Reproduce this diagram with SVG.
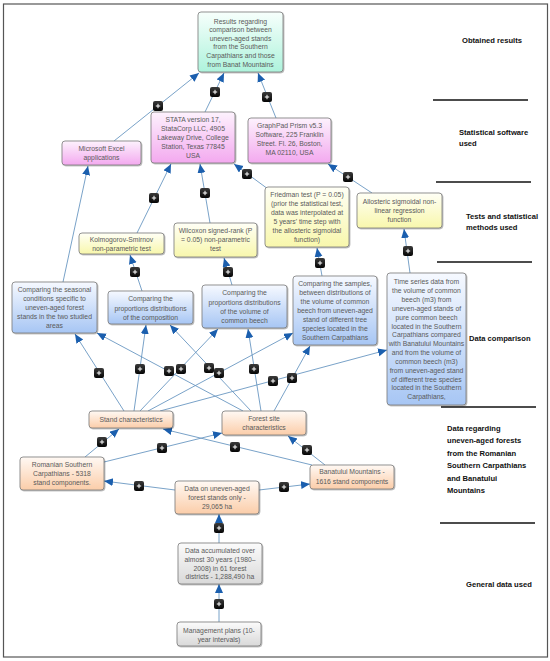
<svg xmlns="http://www.w3.org/2000/svg" xmlns:xlink="http://www.w3.org/1999/xlink" width="550" height="661" viewBox="0 0 550 661">
<defs>
<linearGradient id="gMint" x1="0" y1="0" x2="0" y2="1"><stop offset="0" stop-color="#f7fffc"/><stop offset="1" stop-color="#aef3dc"/></linearGradient>
<linearGradient id="gPink" x1="0" y1="0" x2="0" y2="1"><stop offset="0" stop-color="#fdf2fd"/><stop offset="1" stop-color="#f3a9ef"/></linearGradient>
<linearGradient id="gYel" x1="0" y1="0" x2="0" y2="1"><stop offset="0" stop-color="#fffff6"/><stop offset="1" stop-color="#f8f7ac"/></linearGradient>
<linearGradient id="gBlue" x1="0" y1="0" x2="0" y2="1"><stop offset="0" stop-color="#f6f9ff"/><stop offset="1" stop-color="#a7c6f4"/></linearGradient>
<linearGradient id="gOr" x1="0" y1="0" x2="0" y2="1"><stop offset="0" stop-color="#fff9f4"/><stop offset="1" stop-color="#fbcda9"/></linearGradient>
<linearGradient id="gGray" x1="0" y1="0" x2="0" y2="1"><stop offset="0" stop-color="#fbfbfb"/><stop offset="1" stop-color="#d9d9d9"/></linearGradient>
<linearGradient id="gPlus" x1="0" y1="0" x2="0" y2="1"><stop offset="0" stop-color="#3a3a3a"/><stop offset="1" stop-color="#050505"/></linearGradient>
<filter id="sh" x="-10%" y="-10%" width="130%" height="130%"><feDropShadow dx="0.8" dy="0.8" stdDeviation="0.7" flood-color="#000" flood-opacity="0.35"/></filter>
<marker id="ah" markerUnits="userSpaceOnUse" markerWidth="10" markerHeight="9" refX="9" refY="4" orient="auto"><path d="M0,0 L9,4 L0,8 z" fill="#1b5fae"/></marker>
<g id="plus"><rect x="-5" y="-5" width="10" height="10" rx="2" fill="url(#gPlus)"/><path d="M-2.2,0 H2.2 M0,-2.2 V2.2" stroke="#fff" stroke-width="1"/></g>
</defs>
<style>
.box{stroke:#7a7a7a;stroke-width:0.8;filter:url(#sh)}
.t{font-family:"Liberation Sans",Arial,sans-serif;font-size:6.8px;fill:#5a5a5a;text-anchor:middle}
.lab{font-family:"Liberation Sans",Arial,sans-serif;font-weight:bold;font-size:7.6px;fill:#111}
.c{stroke:#6a97c2;stroke-width:0.9;fill:none;marker-end:url(#ah)}
.sep{stroke:#111;stroke-width:1.3}
</style>
<rect x="3.5" y="4" width="544" height="653" fill="#fff" stroke="#555" stroke-width="1.2"/>

<g id="labels">
<text class="lab" x="462" y="43">Obtained results</text>
<line class="sep" x1="433" y1="100" x2="528" y2="100"/>
<text class="lab" x="459" y="135">Statistical software<tspan x="459" dy="11">used</tspan></text>
<line class="sep" x1="436" y1="182" x2="531" y2="182"/>
<text class="lab" x="466" y="219">Tests and statistical<tspan x="466" dy="11">methods used</tspan></text>
<line class="sep" x1="437" y1="262" x2="532" y2="262"/>
<text class="lab" x="469" y="341">Data comparison</text>
<line class="sep" x1="441" y1="407" x2="536" y2="407"/>
<text class="lab" x="447" y="431">Data regarding<tspan x="447" dy="12.4">uneven-aged forests</tspan><tspan x="447" dy="12.4">from the Romanian</tspan><tspan x="447" dy="12.4">Southern Carpathians</tspan><tspan x="447" dy="12.4">and Banatului</tspan><tspan x="447" dy="12.4">Mountains</tspan></text>
<line class="sep" x1="440" y1="523" x2="535" y2="523"/>
<text class="lab" x="466" y="587">General data used</text>
</g>

<g id="connectors">
<line class="c" x1="114" y1="141" x2="199" y2="73"/>
<line class="c" x1="205" y1="112" x2="224" y2="73"/>
<line class="c" x1="276" y1="118" x2="258" y2="73"/>
<line class="c" x1="137" y1="233" x2="171" y2="164"/>
<line class="c" x1="210" y1="223" x2="200" y2="164"/>
<line class="c" x1="268" y1="189" x2="234" y2="164"/>
<line class="c" x1="372" y1="193" x2="328" y2="164"/>
<line class="c" x1="142" y1="291" x2="130" y2="255"/>
<line class="c" x1="232" y1="285" x2="224" y2="258"/>
<line class="c" x1="322" y1="276" x2="317" y2="248"/>
<line class="c" x1="410" y1="273" x2="404" y2="229"/>
<line class="c" x1="63" y1="282" x2="88" y2="166"/>
<line class="c" x1="124" y1="411" x2="75" y2="334"/>
<line class="c" x1="243" y1="411" x2="97" y2="333"/>
<line class="c" x1="134" y1="411" x2="146" y2="325"/>
<line class="c" x1="251" y1="411" x2="170" y2="325"/>
<line class="c" x1="140" y1="411" x2="218" y2="329"/>
<line class="c" x1="261" y1="411" x2="248" y2="329"/>
<line class="c" x1="148" y1="411" x2="293" y2="333"/>
<line class="c" x1="274" y1="411" x2="310" y2="346"/>
<line class="c" x1="160" y1="411" x2="387" y2="350"/>
<line class="c" x1="85" y1="457" x2="119" y2="429"/>
<line class="c" x1="104" y1="462" x2="222" y2="433"/>
<line class="c" x1="312" y1="465" x2="163" y2="429"/>
<line class="c" x1="325" y1="465" x2="288" y2="436"/>
<line class="c" x1="175" y1="490" x2="104" y2="481"/>
<line class="c" x1="259" y1="490" x2="310" y2="484"/>
<line class="c" x1="219" y1="543" x2="219" y2="514"/>
<line class="c" x1="219" y1="622" x2="219" y2="584"/>
<use xlink:href="#plus" x="158" y="106"/>
<use xlink:href="#plus" x="215" y="92"/>
<use xlink:href="#plus" x="267" y="97"/>
<use xlink:href="#plus" x="154" y="198"/>
<use xlink:href="#plus" x="205" y="193"/>
<use xlink:href="#plus" x="247" y="174"/>
<use xlink:href="#plus" x="348" y="177"/>
<use xlink:href="#plus" x="135" y="272"/>
<use xlink:href="#plus" x="228" y="272"/>
<use xlink:href="#plus" x="320" y="263"/>
<use xlink:href="#plus" x="408" y="251"/>
<use xlink:href="#plus" x="99" y="373"/>
<use xlink:href="#plus" x="169" y="371"/>
<use xlink:href="#plus" x="140" y="369"/>
<use xlink:href="#plus" x="209" y="368"/>
<use xlink:href="#plus" x="181" y="369"/>
<use xlink:href="#plus" x="254" y="369"/>
<use xlink:href="#plus" x="219" y="373"/>
<use xlink:href="#plus" x="292" y="378"/>
<use xlink:href="#plus" x="273" y="381"/>
<use xlink:href="#plus" x="102" y="442"/>
<use xlink:href="#plus" x="162" y="448"/>
<use xlink:href="#plus" x="235" y="447"/>
<use xlink:href="#plus" x="307" y="450"/>
<use xlink:href="#plus" x="139" y="486"/>
<use xlink:href="#plus" x="284" y="487"/>
<use xlink:href="#plus" x="219" y="528"/>
<use xlink:href="#plus" x="219" y="604"/>
</g>

<g id="results"><rect class="box" x="198" y="12" width="85" height="60" rx="3" fill="url(#gMint)"/>
<text class="t" x="240.5" y="23.5">Results regarding<tspan x="240.5" dy="8.6">comparison between</tspan><tspan x="240.5" dy="8.6">uneven-aged stands</tspan><tspan x="240.5" dy="8.6">from the Southern</tspan><tspan x="240.5" dy="8.6">Carpathians and those</tspan><tspan x="240.5" dy="8.6">from Banat Mountains</tspan></text></g>

<g id="stata"><rect class="box" x="151" y="112" width="84" height="51" rx="3" fill="url(#gPink)"/>
<text class="t" x="193" y="121.5">STATA version 17,<tspan x="193" dy="9.2">StataCorp LLC, 4905</tspan><tspan x="193" dy="9.2">Lakeway Drive, College</tspan><tspan x="193" dy="9.2">Station, Texas 77845</tspan><tspan x="193" dy="9.2">USA</tspan></text></g>

<g id="graphpad"><rect class="box" x="248" y="118" width="83" height="45" rx="3" fill="url(#gPink)"/>
<text class="t" x="289.5" y="127.5">GraphPad Prism v5.3<tspan x="289.5" dy="9.3">Software, 225 Franklin</tspan><tspan x="289.5" dy="9.3">Street. Fl. 26, Boston,</tspan><tspan x="289.5" dy="9.3">MA 02110, USA</tspan></text></g>

<g id="excel"><rect class="box" x="62" y="141" width="79" height="24" rx="3" fill="url(#gPink)"/>
<text class="t" x="101.5" y="151.3">Microsoft Excel<tspan x="101.5" dy="9">applications</tspan></text></g>

<g id="kolmogorov"><rect class="box" x="79" y="233" width="85" height="21" rx="3" fill="url(#gYel)"/>
<text class="t" x="121.5" y="242.3">Kolmogorov-Smirnov<tspan x="121.5" dy="9">non-parametric test</tspan></text></g>

<g id="wilcoxon"><rect class="box" x="174" y="223" width="83" height="34" rx="3" fill="url(#gYel)"/>
<text class="t" x="215.5" y="233.3">Wilcoxon signed-rank (P<tspan x="215.5" dy="9">= 0.05) non-parametric</tspan><tspan x="215.5" dy="9">test</tspan></text></g>

<g id="friedman"><rect class="box" x="265" y="187" width="84" height="60" rx="3" fill="url(#gYel)"/>
<text class="t" x="307" y="197.3">Friedman test (P = 0.05)<tspan x="307" dy="9">(prior the statistical test,</tspan><tspan x="307" dy="9">data was interpolated at</tspan><tspan x="307" dy="9">5 years' time step with</tspan><tspan x="307" dy="9">the allosteric sigmoidal</tspan><tspan x="307" dy="9">function)</tspan></text></g>

<g id="allosteric"><rect class="box" x="357" y="193" width="85" height="35" rx="3" fill="url(#gYel)"/>
<text class="t" x="399.5" y="204.3">Allosteric sigmoidal non-<tspan x="399.5" dy="8.6">linear regression</tspan><tspan x="399.5" dy="8.6">function</tspan></text></g>

<g id="seasonal"><rect class="box" x="12" y="282" width="85" height="51" rx="3" fill="url(#gBlue)"/>
<text class="t" x="54.5" y="292.3">Comparing the seasonal<tspan x="54.5" dy="9">conditions specific to</tspan><tspan x="54.5" dy="9">uneven-aged forest</tspan><tspan x="54.5" dy="9">stands in the two studied</tspan><tspan x="54.5" dy="9">areas</tspan></text></g>

<g id="composition"><rect class="box" x="108" y="291" width="85" height="33" rx="3" fill="url(#gBlue)"/>
<text class="t" x="150.5" y="301.3">Comparing the<tspan x="150.5" dy="9.3">proportions distributions</tspan><tspan x="150.5" dy="9.3">of the composition</tspan></text></g>

<g id="beech"><rect class="box" x="202" y="285" width="85" height="43" rx="3" fill="url(#gBlue)"/>
<text class="t" x="244.5" y="295.3">Comparing the<tspan x="244.5" dy="9.2">proportions distributions</tspan><tspan x="244.5" dy="9.2">of the volume of</tspan><tspan x="244.5" dy="9.2">common beech</tspan></text></g>

<g id="samples"><rect class="box" x="293" y="276" width="84" height="69" rx="3" fill="url(#gBlue)"/>
<text class="t" x="335" y="286.3">Comparing the samples,<tspan x="335" dy="9">between distributions of</tspan><tspan x="335" dy="9">the volume of common</tspan><tspan x="335" dy="9">beech from uneven-aged</tspan><tspan x="335" dy="9">stand of different tree</tspan><tspan x="335" dy="9">species located in the</tspan><tspan x="335" dy="9">Southern Carpathians</tspan></text></g>

<g id="timeseries"><rect class="box" x="387" y="273" width="79" height="132" rx="3" fill="url(#gBlue)"/>
<text class="t" x="426.5" y="284.3">Time series data from<tspan x="426.5" dy="8.85">the volume of common</tspan><tspan x="426.5" dy="8.85">beech (m3) from</tspan><tspan x="426.5" dy="8.85">uneven-aged stands of</tspan><tspan x="426.5" dy="8.85">pure common beech</tspan><tspan x="426.5" dy="8.85">located in the Southern</tspan><tspan x="426.5" dy="8.85">Carpathians compared</tspan><tspan x="426.5" dy="8.85">with Banatului Mountains</tspan><tspan x="426.5" dy="8.85">and from the volume of</tspan><tspan x="426.5" dy="8.85">common beech (m3)</tspan><tspan x="426.5" dy="8.85">from uneven-aged stand</tspan><tspan x="426.5" dy="8.85">of different tree species</tspan><tspan x="426.5" dy="8.85">located in the Southern</tspan><tspan x="426.5" dy="8.85">Carpathians,</tspan></text></g>

<g id="stand"><rect class="box" x="89" y="411" width="84" height="17" rx="3" fill="url(#gOr)"/>
<text class="t" x="131" y="422.3">Stand characteristics</text></g>

<g id="forestsite"><rect class="box" x="222" y="411" width="84" height="24" rx="3" fill="url(#gOr)"/>
<text class="t" x="264" y="421.3">Forest site<tspan x="264" dy="9">characteristics</tspan></text></g>

<g id="romanian"><rect class="box" x="20" y="457" width="84" height="33" rx="3" fill="url(#gOr)"/>
<text class="t" x="62" y="467.3">Romanian Southern<tspan x="62" dy="9">Carpathians - 5318</tspan><tspan x="62" dy="9">stand components.</tspan></text></g>

<g id="banatului"><rect class="box" x="310" y="465" width="84" height="24" rx="3" fill="url(#gOr)"/>
<text class="t" x="352" y="474.3">Banatului Mountains -<tspan x="352" dy="9.5">1616 stand components</tspan></text></g>

<g id="uneven"><rect class="box" x="175" y="481" width="84" height="33" rx="3" fill="url(#gOr)"/>
<text class="t" x="217" y="491.3">Data on uneven-aged<tspan x="217" dy="9">forest stands only -</tspan><tspan x="217" dy="9">29,065 ha</tspan></text></g>

<g id="accumulated"><rect class="box" x="178" y="543" width="84" height="41" rx="3" fill="url(#gGray)"/>
<text class="t" x="220" y="553.3">Data accumulated over<tspan x="220" dy="8.7">almost 30 years (1980–</tspan><tspan x="220" dy="8.7">2008) in 61 forest</tspan><tspan x="220" dy="8.7">districts - 1,288,490 ha</tspan></text></g>

<g id="management"><rect class="box" x="177" y="622" width="84" height="24" rx="3" fill="url(#gGray)"/>
<text class="t" x="219" y="633.3">Management plans (10-<tspan x="219" dy="8.7">year intervals)</tspan></text></g>
</svg>
